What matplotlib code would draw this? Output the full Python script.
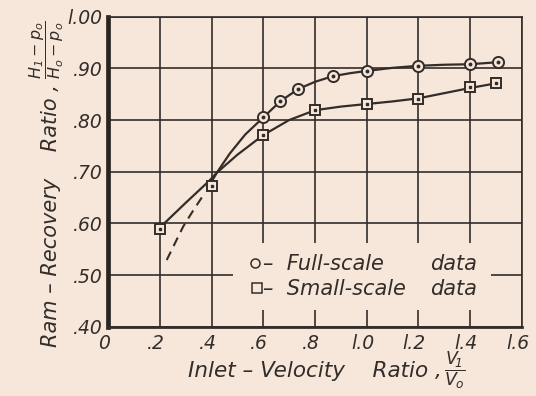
import matplotlib
matplotlib.use("Agg")
import matplotlib.pyplot as plt
import matplotlib.transforms as mtransforms
from matplotlib.patches import Rectangle

# measured points
full_x = [0.60, 0.665, 0.735, 0.87, 1.00, 1.20, 1.40, 1.51]
full_y = [0.805, 0.837, 0.860, 0.885, 0.895, 0.905, 0.908, 0.913]
small_x = [0.20, 0.40, 0.60, 0.80, 1.00, 1.20, 1.40, 1.50]
small_y = [0.590, 0.673, 0.771, 0.820, 0.831, 0.841, 0.863, 0.871]

# faired curves through the data
full_curve_x = [0.385, 0.42, 0.47, 0.53, 0.60, 0.665, 0.735, 0.80, 0.87, 0.94, 1.00, 1.10, 1.20, 1.30, 1.40, 1.51]
full_curve_y = [0.668, 0.698, 0.735, 0.772, 0.805, 0.836, 0.860, 0.874, 0.885, 0.891, 0.895, 0.901, 0.905, 0.907, 0.908, 0.912]
full_extrap_x = [0.226, 0.29, 0.33, 0.375]
full_extrap_y = [0.529, 0.594, 0.626, 0.660]
small_curve_x = [0.20, 0.30, 0.39, 0.42, 0.50, 0.60, 0.70, 0.80, 0.90, 1.00, 1.10, 1.20, 1.30, 1.40, 1.50]
small_curve_y = [0.592, 0.640, 0.682, 0.698, 0.733, 0.771, 0.800, 0.819, 0.826, 0.831, 0.836, 0.842, 0.852, 0.862, 0.871]

x_ticks = [0, 0.2, 0.4, 0.6, 0.8, 1.0, 1.2, 1.4, 1.6]
x_tick_labels = ["0", ".2", ".4", ".6", ".8", "l.0", "l.2", "l.4", "l.6"]
y_ticks = [0.40, 0.50, 0.60, 0.70, 0.80, 0.90, 1.00]
y_tick_labels = [".40", ".50", ".60", ".70", ".80", ".90", "l.00"]

key_labels = ["–  Full-scale", "–  Small-scale"]
key_word = "data"

PAPER = "#f7e6da"
INK = "#332d2a"

plt.rcParams["font.family"] = "DejaVu Sans"
plt.rcParams["font.style"] = "oblique"
plt.rcParams["mathtext.fontset"] = "dejavusans"

fig = plt.figure(figsize=(5.36, 3.96), dpi=100, facecolor=PAPER)
ax = fig.add_axes([108.3 / 536, 1 - 326.7 / 396, 413.4 / 536, 310 / 396])
ax.set_facecolor(PAPER)

ax.set_xlim(0, 1.6)
ax.set_ylim(0.40, 1.00)
ax.set_xticks(x_ticks)
ax.set_xticklabels(x_tick_labels, fontsize=13.5, color=INK)
ax.set_yticks(y_ticks)
ax.set_yticklabels(y_tick_labels, fontsize=13.5, color=INK)
ax.tick_params(length=0)
ax.tick_params(axis="x", pad=5)
ax.tick_params(axis="y", pad=4)
shift = mtransforms.ScaledTranslation(-0.04, 0, fig.dpi_scale_trans)
for lab in ax.get_xticklabels():
    lab.set_transform(lab.get_transform() + shift)

ax.grid(True, color=INK, lw=1.2)
ax.set_axisbelow(True)
for side in ("top", "right"):
    ax.spines[side].set_linewidth(1.2)
    ax.spines[side].set_color(INK)
ax.spines["left"].set_linewidth(3.4)
ax.spines["left"].set_color("#2a2420")
ax.spines["bottom"].set_linewidth(2.0)
ax.spines["bottom"].set_color(INK)

# blank out the grid behind the key
ax.add_patch(Rectangle((0.483, 0.433), 1.0, 0.129, facecolor=PAPER,
                       edgecolor="none", zorder=1))

ax.plot(full_curve_x, full_curve_y, color=INK, lw=1.6, zorder=2)
ax.plot(full_extrap_x, full_extrap_y, color=INK, lw=1.5,
        linestyle=(0, (4.5, 3)), zorder=2)
ax.plot(small_curve_x, small_curve_y, color=INK, lw=1.6, zorder=2)

ax.plot(full_x, full_y, "o", ms=8, mfc=PAPER, mec=INK, mew=1.4, zorder=3)
ax.plot(full_x, full_y, "o", ms=1.8, color=INK, zorder=4)
ax.plot(small_x, small_y, "s", ms=7.2, mfc=PAPER, mec=INK, mew=1.4, zorder=3)
ax.plot(small_x, small_y, "s", ms=1.6, color=INK, zorder=4)

# key
ax.plot([0.568], [0.523], "o", ms=6.5, mfc=PAPER, mec=INK, mew=1.1, zorder=3)
ax.plot([0.574], [0.474], "s", ms=6.5, mfc=PAPER, mec=INK, mew=1.1, zorder=3)
for label, ky in zip(key_labels, [0.521, 0.473]):
    ax.text(0.60, ky, label, fontsize=15, color=INK,
            va="center", ha="left", zorder=3)
    ax.text(1.245, ky, key_word, fontsize=15, color=INK,
            va="center", ha="left", zorder=3)

# axis titles, with the ratio written as a fraction after the words
ax.text(0.808, -0.161, "Inlet – Velocity    Ratio ,",
        transform=ax.transAxes, fontsize=15.5, color=INK, ha="right",
        va="baseline")
ax.text(0.838, -0.155, r"$\dfrac{V_{\!1}}{V_o}$",
        transform=ax.transAxes, fontsize=12.5, color=INK, ha="center",
        va="baseline")
ax.text(-0.124, 0.783, "Ram – Recovery    Ratio ,",
        transform=ax.transAxes, fontsize=15, color=INK, rotation=90,
        rotation_mode="anchor", ha="right", va="baseline")
ax.text(-0.140, 0.800, r"$\dfrac{H_1 - p_o}{H_o - p_o}$",
        transform=ax.transAxes, fontsize=11.5, color=INK, rotation=90,
        rotation_mode="anchor", ha="left", va="baseline")

fig.savefig("out.png", dpi=100, facecolor=PAPER)
